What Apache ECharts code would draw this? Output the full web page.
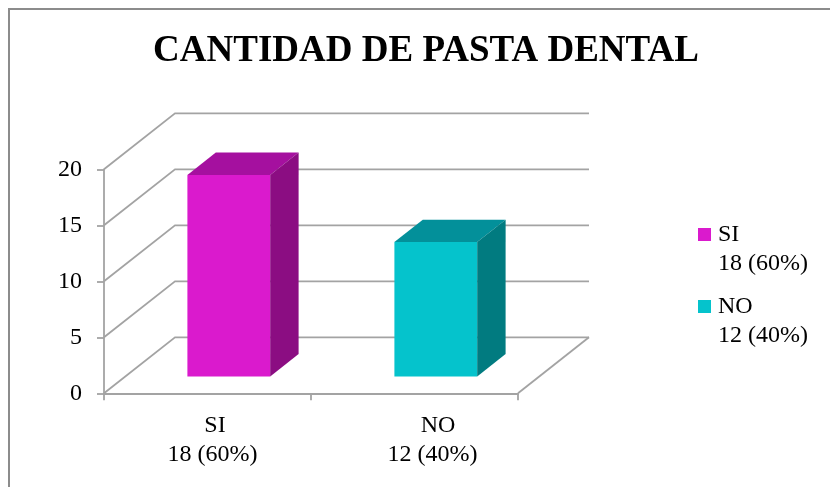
<!DOCTYPE html>
<html><head><meta charset="utf-8">
<script src="https://cdn.jsdelivr.net/npm/echarts@6/dist/echarts.min.js"></script>
<style>html,body{margin:0;padding:0;background:#fff}#c{width:830px;height:487px}</style>
</head><body><div id="c"></div>
<script>
const chartTitle = 'CANTIDAD DE PASTA DENTAL';
const categories = ['SI', 'NO'];
const counts = [18, 12];
const percents = [60, 40];
const yTicks = [0, 5, 10, 15, 20];

const faceColors = ['#DA1ACD', '#05C3CC'];
const topColors = ['#A5109F', '#03909A'];
const sideColors = ['#8B0D82', '#017B80'];

const DEPTH_X = 71, DEPTH_Y = -56;
const BAR_FRONT = 0.3, BAR_DEPTH = 0.4, BAR_WIDTH = 0.4;
const GRID_COLOR = '#A3A3A3';
const GRID_W = 1.8;
const FONT = '"Liberation Serif", "Times New Roman", serif';
const LABEL_SIZE = 24, LINE_H = 29;

function valueText(i) { return counts[i] + ' (' + percents[i] + '%)'; }

const chart = echarts.init(document.getElementById('c'), null, { renderer: 'canvas' });

function renderFrame(params, api) {
  const cs = params.coordSys;
  const v = api.value(1);
  const y = api.coord([0, v])[1];
  const left = cs.x, right = cs.x + cs.width;
  const children = [{
    type: 'polyline',
    shape: { points: [[left, y], [left + DEPTH_X, y + DEPTH_Y], [right + DEPTH_X, y + DEPTH_Y]] },
    style: { stroke: GRID_COLOR, lineWidth: GRID_W, fill: null }
  }];
  if (v === yTicks[0]) {
    children.push({
      type: 'line',
      shape: { x1: right, y1: y, x2: right + DEPTH_X, y2: y + DEPTH_Y },
      style: { stroke: GRID_COLOR, lineWidth: GRID_W }
    });
  }
  return { type: 'group', children: children };
}

function renderBar(params, api) {
  const idx = api.value(0);
  const val = api.value(1);
  const band = api.size([1, 0])[0];
  const base = api.coord([idx, 0]);
  const topPt = api.coord([idx, val]);
  const fx = BAR_FRONT * DEPTH_X, fy = BAR_FRONT * DEPTH_Y;
  const dx = BAR_DEPTH * DEPTH_X, dy = BAR_DEPTH * DEPTH_Y;
  const hw = band * BAR_WIDTH / 2;
  const x0 = base[0] + fx - hw, x1 = base[0] + fx + hw;
  const yb = base[1] + fy, yt = topPt[1] + fy;
  return {
    type: 'group',
    children: [
      { type: 'polygon', shape: { points: [[x0, yt], [x1, yt], [x1, yb], [x0, yb]] }, style: { fill: faceColors[idx] } },
      { type: 'polygon', shape: { points: [[x0, yt], [x0 + dx, yt + dy], [x1 + dx, yt + dy], [x1, yt]] }, style: { fill: topColors[idx] } },
      { type: 'polygon', shape: { points: [[x1, yt], [x1 + dx, yt + dy], [x1 + dx, yb + dy], [x1, yb]] }, style: { fill: sideColors[idx] } }
    ]
  };
}

const legendRich = {
  n: { fontSize: LABEL_SIZE, fontFamily: FONT, lineHeight: LINE_H, color: '#000', padding: [0, 0, 0, 7] },
  v: { fontSize: LABEL_SIZE, fontFamily: FONT, lineHeight: LINE_H, color: '#000', padding: [0, 0, 0, 20] }
};
categories.forEach(function (c, i) {
  legendRich['m' + i] = { width: 13, height: 13, backgroundColor: faceColors[i] };
});

const axisPad = [[15, 10], [47, 36]];
const axisRich = {};
categories.forEach(function (c, i) {
  axisRich['n' + i] = { fontSize: LABEL_SIZE, fontFamily: FONT, lineHeight: LINE_H, color: '#000', padding: [0, 0, 0, axisPad[i][0]] };
  axisRich['v' + i] = { fontSize: LABEL_SIZE, fontFamily: FONT, lineHeight: LINE_H, color: '#000', padding: [0, 0, 0, axisPad[i][1]] };
});

const series = [{
  type: 'custom',
  name: '__frame',
  data: yTicks.map(function (v) { return [0, v]; }),
  renderItem: renderFrame,
  clip: false,
  silent: true,
  z: 1
}];
categories.forEach(function (c, i) {
  series.push({
    type: 'custom',
    name: c,
    data: [[i, counts[i]]],
    renderItem: renderBar,
    itemStyle: { color: faceColors[i] },
    clip: false,
    z: 3
  });
});

chart.setOption({
  animation: false,
  backgroundColor: '#fff',
  graphic: [{
    type: 'rect', silent: true,
    shape: { x: 9, y: 9, width: 1000, height: 1000 },
    style: { fill: null, stroke: '#8C8C8C', lineWidth: 2 }
  }],
  title: {
    text: chartTitle,
    left: 426, textAlign: 'center', top: 33, padding: 0,
    textStyle: { fontFamily: FONT, fontSize: 37, fontWeight: 'bold', color: '#000' }
  },
  legend: {
    data: categories,
    orient: 'vertical',
    left: 693, top: 220, padding: 0,
    itemWidth: 0, itemHeight: 0, textGap: 0, itemGap: 14,
    itemStyle: { opacity: 0 },
    selectedMode: false,
    formatter: function (name) {
      const i = categories.indexOf(name);
      return '{m' + i + '|}{n|' + name + '}\n{v|' + valueText(i) + '}';
    },
    textStyle: { fontFamily: FONT, fontSize: LABEL_SIZE, lineHeight: LINE_H, color: '#000', rich: legendRich }
  },
  grid: { left: 104, right: 312, top: 169.3, bottom: 93.7 },
  xAxis: {
    type: 'category',
    data: categories,
    boundaryGap: true,
    axisLine: { show: true, lineStyle: { color: GRID_COLOR, width: GRID_W } },
    axisTick: { show: true, length: 7, alignWithLabel: false, lineStyle: { color: GRID_COLOR, width: GRID_W } },
    axisLabel: {
      margin: 18,
      interval: 0,
      formatter: function (value, index) {
        return '{n' + index + '|' + value + '}\n{v' + index + '|' + valueText(index) + '}';
      },
      fontFamily: FONT, fontSize: LABEL_SIZE, lineHeight: LINE_H, color: '#000',
      rich: axisRich
    },
    splitLine: { show: false }
  },
  yAxis: {
    type: 'value',
    min: 0, max: 20, interval: 5,
    axisLine: { show: true, lineStyle: { color: GRID_COLOR, width: GRID_W } },
    axisTick: { show: true, length: 7, lineStyle: { color: GRID_COLOR, width: GRID_W } },
    axisLabel: { margin: 22, fontFamily: FONT, fontSize: LABEL_SIZE, color: '#000' },
    splitLine: { show: false }
  },
  series: series
});
</script>
</body></html>
